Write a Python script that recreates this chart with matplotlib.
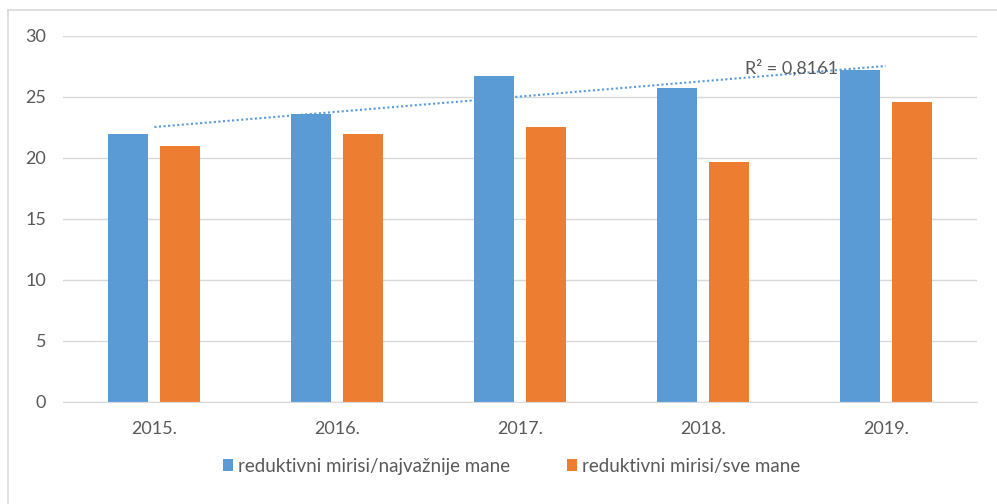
import numpy as np
import matplotlib.pyplot as plt
from matplotlib.lines import Line2D

# Godine i udjeli reduktivnih mirisa
years = ["2015.", "2016.", "2017.", "2018.", "2019."]
najvaznije_mane = [22.0, 23.6, 26.7, 25.7, 27.2]
sve_mane = [21.0, 22.0, 22.5, 19.7, 24.6]
r2_label = "R² = 0,8161"

BLUE = "#5B9BD5"
ORANGE = "#ED7D31"
GRID = "#D9D9D9"
TEXT = "#595959"

plt.rcParams['font.family'] = ['Lato', 'DejaVu Sans']

fig = plt.figure(figsize=(9.97, 5.04), dpi=100)
ax = fig.add_axes([0.0632, 0.2024, 0.9168, 0.7262])

x = np.arange(len(years))
w = 0.219
gap = 0.066
ax.bar(x - (w + gap) / 2, najvaznije_mane, w, color=BLUE,
       label="reduktivni mirisi/najvažnije mane")
ax.bar(x + (w + gap) / 2, sve_mane, w, color=ORANGE,
       label="reduktivni mirisi/sve mane")

# linearni trend za prvu seriju
k, n = np.polyfit(x, najvaznije_mane, 1)
ax.plot(x, k * x + n, color=BLUE, lw=1.5, ls=(0, (1, 1.2)), zorder=3)
ax.text(3.23, 27.4, r2_label, color=TEXT, fontsize=13,
        ha="left", va="center", zorder=4)

ax.set_xlim(-0.5, len(years) - 0.5)
ax.set_ylim(0, 30)
ax.set_yticks(range(0, 31, 5))
ax.set_xticks(x)
ax.set_xticklabels(years)
ax.yaxis.grid(True, color=GRID, lw=1)
ax.set_axisbelow(True)
for s in ["top", "right", "left"]:
    ax.spines[s].set_visible(False)
ax.spines["bottom"].set_color(GRID)
ax.tick_params(axis="both", length=0, colors=TEXT, labelsize=13)
ax.tick_params(axis="y", pad=12)
ax.tick_params(axis="x", pad=14)

leg = fig.legend(loc="center", bbox_to_anchor=(0.513, 0.075), ncol=2,
                 frameon=False, fontsize=13.5, handlelength=0.55,
                 handleheight=0.55, handletextpad=0.25, columnspacing=3.0)
for t in leg.get_texts():
    t.set_color(TEXT)

# okvir grafikona
fig.add_artist(Line2D([0.008, 0.008], [0, 0.98], color=GRID, lw=1.2,
                      transform=fig.transFigure))
fig.add_artist(Line2D([0.008, 1.0], [0.98, 0.98], color=GRID, lw=1.2,
                      transform=fig.transFigure))

fig.savefig("out.png", dpi=100, facecolor="white")
